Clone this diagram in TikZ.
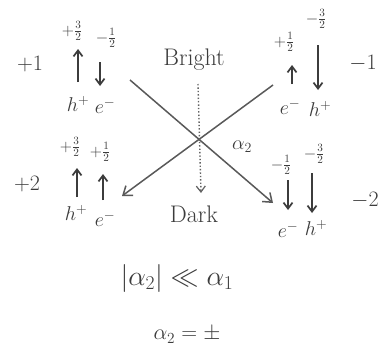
\documentclass[tikz,border=0pt]{standalone}
\usepackage{fix-cm}
\usetikzlibrary{arrows.meta}
\definecolor{ink}{HTML}{3C3C3C}
\tikzset{
  lbl/.style={inner sep=0pt, text=ink, font=\fontsize{22}{26}\selectfont},
  frc/.style={inner sep=0pt, text=ink, font=\fontsize{16}{19}\selectfont},
  prt/.style={inner sep=0pt, text=ink, font=\fontsize{20}{24}\selectfont},
  word/.style={inner sep=0pt, text=ink, font=\fontsize{24}{28}\selectfont},
  spin/.style={draw=ink, line width=1.7pt, -{Straight Barb[length=6pt,width=9pt]}},
  xline/.style={draw=ink!85, line width=1.5pt, -{Straight Barb[length=8pt,width=12pt]}},
  dotline/.style={draw=ink!80, line width=1.4pt, dotted, -{Straight Barb[length=6pt,width=9pt,line width=1.2pt]}}
}
\begin{document}
\begin{tikzpicture}[x=1pt,y=-1pt]
\useasboundingbox[fill=white] (0,0) rectangle (390,356);
% side labels
\node[lbl] (p1) at (30,64) {$+1$};
\node[lbl] (p2) at (27,184) {$+2$};
\node[lbl] (m1) at (363,63) {$-1$};
\node[lbl] (m2) at (365,200) {$-2$};
% spin fraction labels
\node[frc] (f1) at (72,31) {$+\frac{3}{2}$};
\node[frc] (f2) at (106,38) {$-\frac{1}{2}$};
\node[frc] (f3) at (284,42) {$+\frac{1}{2}$};
\node[frc] (f4) at (316,19) {$-\frac{3}{2}$};
\node[frc] (f5) at (70,147) {$+\frac{3}{2}$};
\node[frc] (f6) at (100,152) {$+\frac{1}{2}$};
\node[frc] (f7) at (281,165) {$-\frac{1}{2}$};
\node[frc] (f8) at (314,154) {$-\frac{3}{2}$};
% spin arrows
\coordinate (s1a) at (78,82);  \coordinate (s1b) at (78,49);
\coordinate (s2a) at (100,62); \coordinate (s2b) at (100,86);
\coordinate (s3a) at (292,84); \coordinate (s3b) at (292,65);
\coordinate (s4a) at (318,45); \coordinate (s4b) at (318,90);
\coordinate (s5a) at (77,197); \coordinate (s5b) at (77,168);
\coordinate (s6a) at (103,200); \coordinate (s6b) at (103,174);
\coordinate (s7a) at (288,180); \coordinate (s7b) at (288,210);
\coordinate (s8a) at (312,173); \coordinate (s8b) at (312,213);
\draw[spin] (s1a) -- (s1b);
\draw[spin] (s2a) -- (s2b);
\draw[spin] (s3a) -- (s3b);
\draw[spin] (s4a) -- (s4b);
\draw[spin] (s5a) -- (s5b);
\draw[spin] (s6a) -- (s6b);
\draw[spin] (s7a) -- (s7b);
\draw[spin] (s8a) -- (s8b);
% particles
\node[prt] (h1) at (78,104) {$h^{+}$};
\node[prt] (e1) at (105,106) {$e^{-}$};
\node[prt] (e2) at (290,107) {$e^{-}$};
\node[prt] (h2) at (320,109) {$h^{+}$};
\node[prt] (h3) at (76,213) {$h^{+}$};
\node[prt] (e3) at (105,219) {$e^{-}$};
\node[prt] (e4) at (288,230) {$e^{-}$};
\node[prt] (h4) at (316,228) {$h^{+}$};
% centre
\node[word] (bright) at (194,60) {Bright};
\node[word] (dark) at (194,214) {Dark};
\node[prt] (a2) at (242,147) {$\alpha_2$};
\coordinate (xa1) at (130,80);  \coordinate (xa2) at (273,203);
\coordinate (xb1) at (273,85);  \coordinate (xb2) at (122,196);
\draw[xline] (xa1) -- (xa2);
\draw[xline] (xb1) -- (xb2);
\coordinate (dtop) at (198,84);
\coordinate (dbot) at (201,193);
\draw[dotline] (dtop) -- (dbot);
% bottom formulas
\node[inner sep=0pt, text=ink, font=\fontsize{28}{32}\selectfont] (ineq) at (177,278) {$|\alpha_2| \ll \alpha_1$};
\node[inner sep=0pt, text=ink, font=\fontsize{22}{26}\selectfont] (sgn) at (187,335) {$\alpha_2 = \pm$};
\end{tikzpicture}
\end{document}
